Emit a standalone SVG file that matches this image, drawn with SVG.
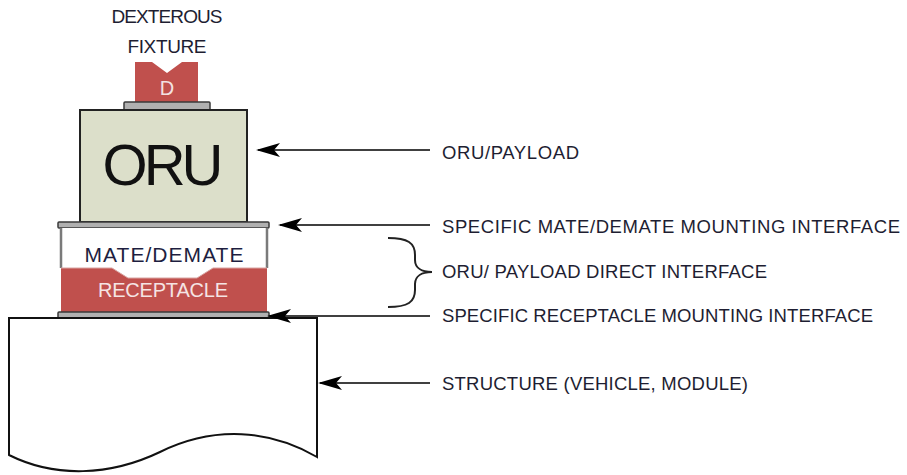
<svg xmlns="http://www.w3.org/2000/svg" width="907" height="475" viewBox="0 0 907 475">
<style>
.lbl{font-family:"Liberation Sans",Arial,sans-serif;font-size:18.5px;fill:#1e1e32}
.cap{font-family:"Liberation Sans",Arial,sans-serif;font-size:19px;fill:#1e1e32;text-anchor:middle}
.plate{fill:#b0b0b0;stroke:#3a3a3a;stroke-width:1.5}
.red{fill:#c0504d}
.conn{stroke:#404040;stroke-width:2;fill:none}
</style>
<defs>
<marker id="ah" markerWidth="24" markerHeight="14" refX="22" refY="7" orient="auto" markerUnits="userSpaceOnUse">
<path d="M0,0 L24,7 L0,14 L6,7 Z" fill="#000"/>
</marker>
</defs>
<rect width="907" height="475" fill="#fff"/>

<g id="fixture">
<text class="cap" x="167" y="23" textLength="111">DEXTEROUS</text>
<text class="cap" x="167" y="53" textLength="79">FIXTURE</text>
<path class="red" d="M135,62 L152,62 L167,73 L182,62 L198,62 L198,103 L135,103 Z"/>
<text x="167" y="95" font-family="'Liberation Sans',Arial,sans-serif" font-size="20" fill="#f3e2e2" text-anchor="middle">D</text>
<rect class="plate" x="124" y="102" width="86" height="8" rx="1"/>
</g>

<g id="oru">
<rect x="80" y="110" width="167" height="112" fill="#dcdfca" stroke="#222" stroke-width="2"/>
<text x="163" y="185" font-family="'Liberation Sans',Arial,sans-serif" font-size="58" fill="#111" text-anchor="middle" textLength="121">ORU</text>
</g>

<g id="mate-plate">
<rect class="plate" x="58" y="222" width="211" height="6" rx="1"/>
</g>

<g id="receptacle">
<rect class="red" x="61" y="267" width="206" height="45"/>
<text x="163" y="297" font-family="'Liberation Sans',Arial,sans-serif" font-size="20" fill="#f5e4e4" text-anchor="middle" textLength="130">RECEPTACLE</text>
</g>

<g id="mate-demate">
<path d="M61,228 L61,268 L112,268 L128,278 L197,278 L213,268 L267,268 L267,228 Z" fill="#fff"/>
<path d="M61,228 L61,268 M267,228 L267,268" stroke="#7a7a7a" stroke-width="2.5" fill="none"/>
<path d="M61,268 L112,268 L128,278 L197,278 L213,268 L267,268" stroke="#d9a5a3" stroke-width="1" fill="none"/>
<text x="164" y="262" font-family="'Liberation Sans',Arial,sans-serif" font-size="21" fill="#1e1e40" text-anchor="middle" textLength="159">MATE/DEMATE</text>
</g>

<g id="receptacle-plate">
<rect class="plate" x="58" y="312" width="211" height="6" rx="1"/>
</g>

<g id="structure">
<path d="M9,318 L317,318 L317,457 C270,430 215,425 160,452 C110,476 55,478 9,455 Z" fill="#fff" stroke="#111" stroke-width="2"/>
</g>

<g id="connectors">
<line class="conn" x1="430" y1="150" x2="258" y2="150" marker-end="url(#ah)"/>
<line class="conn" x1="430" y1="225" x2="280" y2="225" marker-end="url(#ah)"/>
<line class="conn" x1="430" y1="316" x2="269" y2="316" marker-end="url(#ah)"/>
<line class="conn" x1="430" y1="383" x2="320" y2="383" marker-end="url(#ah)"/>
<path d="M388,238 C408,238 415,243 415,255 L415,260 C415,268 422,272 432,272 C422,272 415,276 415,284 L415,290 C415,302 408,307 388,307" stroke="#222" stroke-width="2" fill="none"/>
</g>

<g id="labels">
<text class="lbl" x="442" y="159" textLength="137">ORU/PAYLOAD</text>
<text class="lbl" x="442" y="233" textLength="458">SPECIFIC MATE/DEMATE MOUNTING INTERFACE</text>
<text class="lbl" x="442" y="278" textLength="325">ORU/ PAYLOAD DIRECT INTERFACE</text>
<text class="lbl" x="442" y="322" textLength="431">SPECIFIC RECEPTACLE MOUNTING INTERFACE</text>
<text class="lbl" x="442" y="390" textLength="306">STRUCTURE (VEHICLE, MODULE)</text>
</g>
</svg>
